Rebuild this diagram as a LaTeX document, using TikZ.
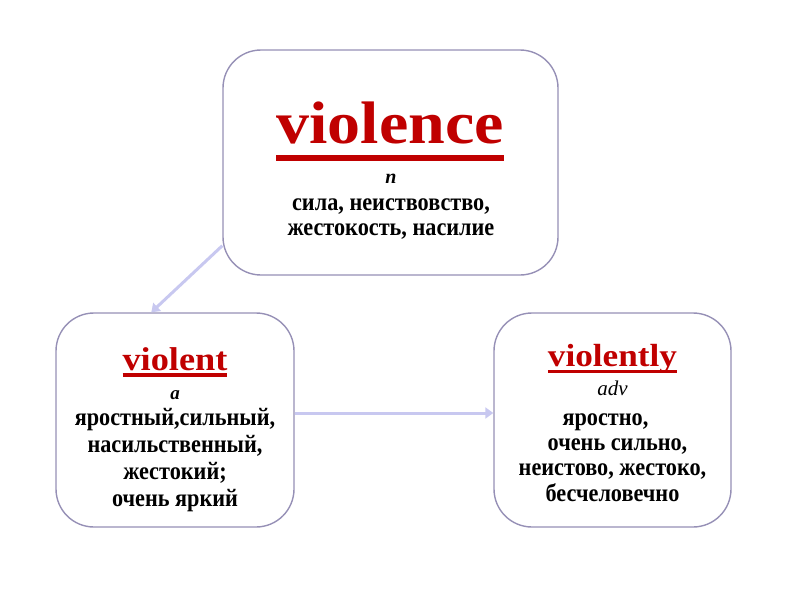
\documentclass[tikz,border=0pt]{standalone}
\usepackage{fontspec}
\setmainfont{Liberation Serif}
\newfontfamily\titlefont[FakeStretch=1.1]{Liberation Serif}
\newfontfamily\glossfont[FakeStretch=0.89]{Liberation Serif}
\usetikzlibrary{arrows.meta}

\definecolor{boxline}{RGB}{150,144,182}
\definecolor{wordred}{RGB}{192,0,0}
\definecolor{arrowlav}{RGB}{200,200,240}

% word with a heavy rule under it: word, depth, thickness
\newcommand{\headul}[3]{\sbox0{#1}\leavevmode\rlap{\usebox0}\rule[-#2]{\wd0}{#3}}

\tikzset{
  wordbox/.style={draw=boxline, line width=1.4pt, rounded corners=38pt,
                  fill=white, inner sep=0pt},
  headword/.style={text=wordred, anchor=base, inner sep=0pt},
  posmark/.style={anchor=base, inner sep=0pt, font=\bfseries\itshape\fontsize{20}{20}\selectfont},
  gloss/.style={anchor=base, inner sep=0pt, align=center},
  derive/.style={draw=arrowlav, line width=3pt,
                 -{Triangle[length=8pt,width=11pt]}}
}

\begin{document}
\begin{tikzpicture}[x=1pt,y=-1pt]
  \useasboundingbox (0,0) rectangle (800,600);

  % the three boxes
  \node [wordbox, minimum width=335pt, minimum height=225pt] (nounbox) at (390.5,162.5) {};
  \node [wordbox, minimum width=238pt, minimum height=214pt] (adjbox)  at (175,420)    {};
  \node [wordbox, minimum width=237pt, minimum height=214pt] (advbox)  at (612.5,420)  {};

  % noun
  \node [headword, font=\titlefont\bfseries\fontsize{60}{60}\selectfont] (nountitle) at (390,143)
    {\headul{violence}{18pt}{6pt}};
  \node [posmark] (nounpos) at (391,183) {n};
  \node [gloss, font=\glossfont\bfseries\fontsize{25}{25}\selectfont] (noungloss) at (391,235)
    {сила, неиствовство,\\жестокость, насилие};

  % adjective
  \node [headword, font=\titlefont\bfseries\fontsize{33}{33}\selectfont] (adjtitle) at (175,370)
    {\headul{violent}{6.5pt}{3.5pt}};
  \node [posmark, font=\bfseries\itshape\fontsize{19}{19}\selectfont] (adjpos) at (175,399) {a};
  \node [gloss, font=\glossfont\bfseries\fontsize{25}{26.7}\selectfont] (adjgloss) at (175,506)
    {яростный,сильный,\\насильственный,\\жестокий;\\очень яркий};

  % adverb
  \node [headword, font=\titlefont\bfseries\fontsize{32}{32}\selectfont] (advtitle) at (612.5,366)
    {\headul{violently}{7pt}{3pt}};
  \node [posmark, font=\itshape\fontsize{21}{24}\selectfont] (advpos) at (612.5,395.5) {adv};
  \node [gloss, font=\glossfont\bfseries\fontsize{25}{25.3}\selectfont] (advgloss) at (612.5,501)
    {яростно,\hspace*{14pt}\\\hspace*{10pt}очень сильно,\\неистово, жестоко,\\бесчеловечно};

  % derivation arrows
  \draw [derive] ([yshift=30pt]nounbox.south west) -- ([xshift=96pt]adjbox.north west);
  \draw [derive] ([yshift=7pt]adjbox.east) -- ([yshift=7pt]advbox.west);
\end{tikzpicture}
\end{document}
